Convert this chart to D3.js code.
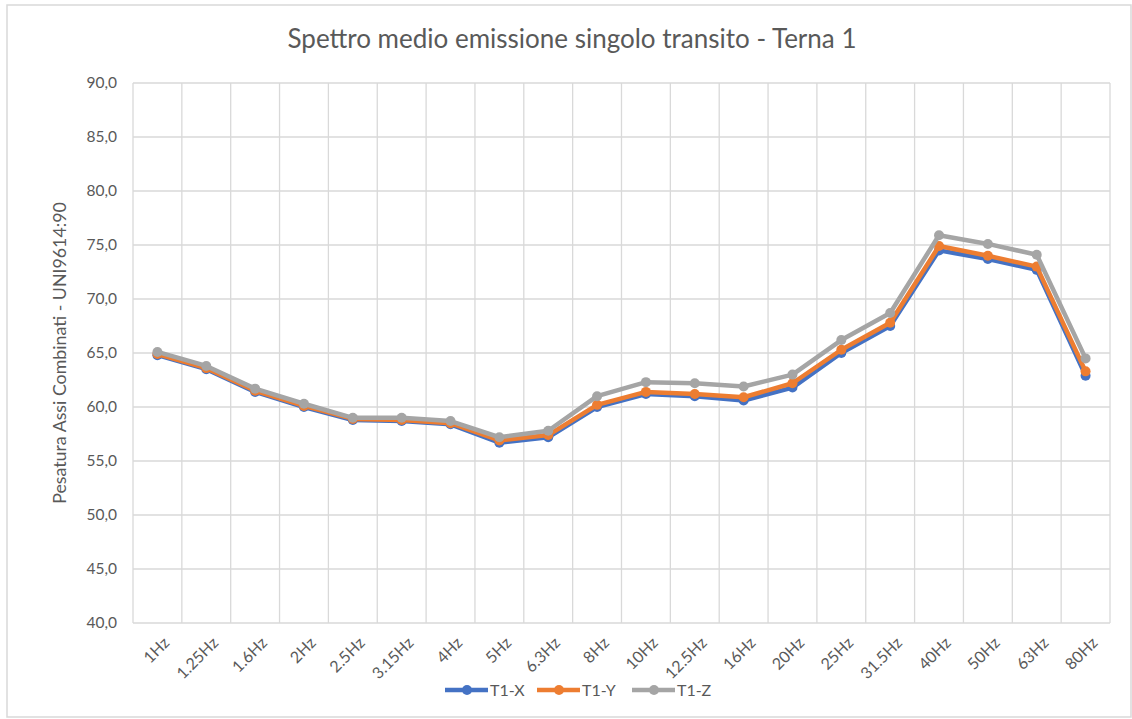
<!DOCTYPE html>
<html>
<head>
<meta charset="utf-8">
<script src="https://cdn.jsdelivr.net/npm/d3@7"></script>
<style>
  body { margin: 0; background: #fff; }
  text { font-family: Lato, "Open Sans", sans-serif; fill: #595959; }
</style>
</head>
<body>
<svg id="chart"></svg>
<script>
const categories = ["1Hz", "1.25Hz", "1.6Hz", "2Hz", "2.5Hz", "3.15Hz", "4Hz", "5Hz", "6.3Hz", "8Hz",
    "10Hz", "12.5Hz", "16Hz", "20Hz", "25Hz", "31.5Hz", "40Hz", "50Hz", "63Hz", "80Hz"]
const t1x = [64.8, 63.5, 61.4, 60.0, 58.8, 58.7, 58.4, 56.7, 57.2, 60.0,
    61.2, 61.0, 60.6, 61.8, 65.0, 67.5, 74.5, 73.7, 72.7, 62.9]
const t1y = [64.9, 63.6, 61.5, 60.1, 58.9, 58.8, 58.5, 56.9, 57.4, 60.2,
    61.4, 61.2, 60.9, 62.2, 65.3, 67.8, 74.9, 74.0, 73.0, 63.3]
const t1z = [65.1, 63.8, 61.7, 60.3, 59.0, 59.0, 58.7, 57.2, 57.8, 61.0,
    62.3, 62.2, 61.9, 63.0, 66.2, 68.7, 75.9, 75.1, 74.1, 64.5]
const seriesNames = ["T1-X", "T1-Y", "T1-Z"]
const yTicks = [40, 45, 50, 55, 60, 65, 70, 75, 80, 85, 90]

const width = 1132, height = 719
const margin = {top: 83, right: 22, bottom: 96, left: 133}
const colors = ["#4472C4", "#ED7D31", "#A5A5A5"]

const svg = d3.select("#chart")
    .attr("width", width)
    .attr("height", height)

// chart border
svg.append("rect")
    .attr("x", 7).attr("y", 5)
    .attr("width", width - 8).attr("height", height - 7)
    .attr("fill", "none")
    .attr("stroke", "#d9d9d9")
    .attr("stroke-width", 1.5)

const x = d3.scaleBand()
    .domain(categories)
    .range([margin.left, width - margin.right])

const y = d3.scaleLinear()
    .domain([40, 90])
    .range([height - margin.bottom, margin.top])

// horizontal grid
svg.append("g")
    .selectAll("line")
    .data(yTicks)
    .enter().append("line")
    .attr("x1", margin.left).attr("x2", width - margin.right)
    .attr("y1", d => y(d)).attr("y2", d => y(d))
    .attr("stroke", "#d9d9d9")
    .attr("stroke-width", 1.3)

// vertical grid (category boundaries)
const bounds = categories.map(c => x(c)).concat([x(categories[categories.length - 1]) + x.bandwidth()])
svg.append("g")
    .selectAll("line")
    .data(bounds)
    .enter().append("line")
    .attr("x1", d => d).attr("x2", d => d)
    .attr("y1", y(40)).attr("y2", y(90))
    .attr("stroke", "#d9d9d9")
    .attr("stroke-width", 1.3)

// y axis
const yAxis = svg.append("g")
    .attr("transform", `translate(${margin.left},0)`)
    .call(d3.axisLeft(y).tickValues(yTicks).tickSize(0).tickPadding(16)
        .tickFormat(d => d3.format(".1f")(d).replace(".", ",")))
yAxis.select(".domain").remove()
yAxis.selectAll("text")
    .style("font-family", "Lato, sans-serif")
    .style("font-size", "15.5px")
    .style("fill", "#595959")

// x axis labels, rotated -45
svg.append("g")
    .selectAll("text")
    .data(categories)
    .enter().append("text")
    .attr("text-anchor", "end")
    .attr("transform", d => `translate(${x(d) + x.bandwidth() / 2 + 9},${y(40) + 17}) rotate(-45)`)
    .attr("dy", "0.35em")
    .style("font-size", "16px")
    .text(d => d)

// y axis title
svg.append("text")
    .attr("transform", `translate(60,${(y(40) + y(90)) / 2}) rotate(-90)`)
    .attr("text-anchor", "middle")
    .attr("dy", "0.35em")
    .style("font-size", "17.8px")
    .text("Pesatura Assi Combinati - UNI9614:90")

// title
svg.append("text")
    .attr("x", 572).attr("y", 48)
    .attr("text-anchor", "middle")
    .style("font-size", "26px")
    .text("Spettro medio emissione singolo transito - Terna 1")

// series
const allSeries = [t1x, t1y, t1z]
const line = d3.line()
    .x((d, i) => x(categories[i]) + x.bandwidth() / 2)
    .y(d => y(d))

allSeries.forEach((vals, k) => {
    const g = svg.append("g")
    g.append("path")
        .datum(vals)
        .attr("d", line)
        .attr("fill", "none")
        .attr("stroke", colors[k])
        .attr("stroke-width", 4.5)
        .attr("stroke-linejoin", "round")
    g.selectAll("circle")
        .data(vals)
        .enter().append("circle")
        .attr("cx", (d, i) => x(categories[i]) + x.bandwidth() / 2)
        .attr("cy", d => y(d))
        .attr("r", 5)
        .attr("fill", colors[k])
})

// legend
const legendX = [445, 537, 632]
const legend = svg.append("g")
seriesNames.forEach((name, k) => {
    const lx = legendX[k]
    legend.append("line")
        .attr("x1", lx).attr("x2", lx + 43)
        .attr("y1", 690).attr("y2", 690)
        .attr("stroke", colors[k])
        .attr("stroke-width", 4.5)
    legend.append("circle")
        .attr("cx", lx + 22).attr("cy", 690).attr("r", 5)
        .attr("fill", colors[k])
    legend.append("text")
        .attr("x", lx + 45).attr("y", 690)
        .attr("dy", "0.35em")
        .style("font-size", "16px")
        .text(name)
})
</script>
</body>
</html>
